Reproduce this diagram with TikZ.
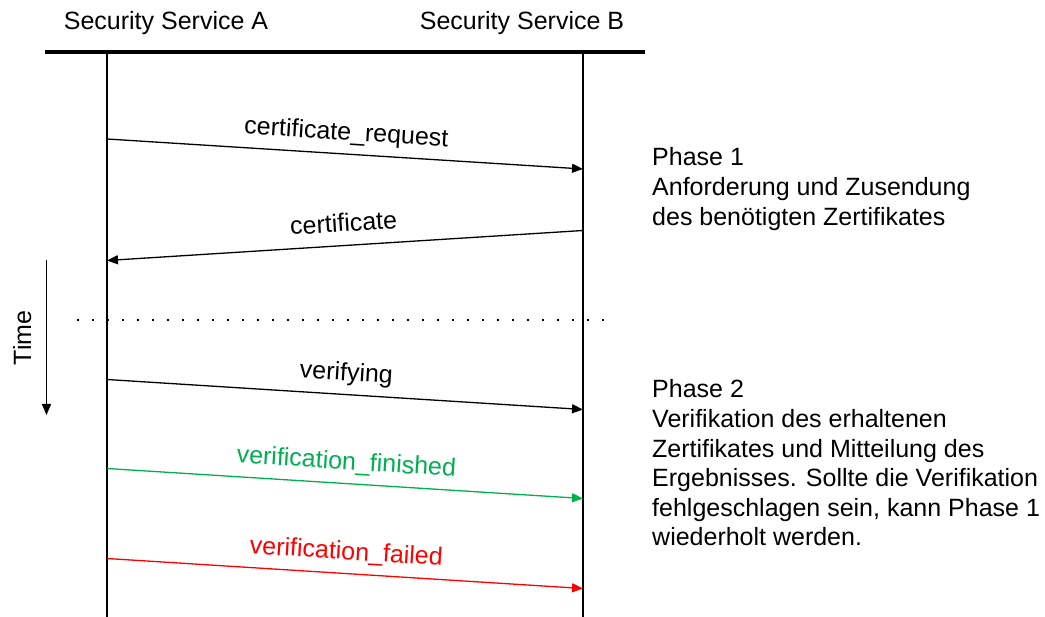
\documentclass[tikz,border=0pt]{standalone}
\usepackage{fontspec}
\setmainfont{Liberation Sans}
\usetikzlibrary{arrows.meta}
\definecolor{okgreen}{HTML}{00B050}
\definecolor{failred}{HTML}{FF0000}
\tikzset{
  txt/.style={font=\fontsize{25}{29.6}\selectfont, inner sep=0pt},
  lifeline/.style={line width=1.4pt},
  msg/.style={line width=1.3pt, -{Triangle[length=11pt,width=9pt]}},
  msglabel/.style={txt, sloped, anchor=base, yshift=14pt},
  phase/.style={txt, anchor=north west, align=left},
}
\begin{document}
\begin{tikzpicture}[x=1pt,y=-1pt]
  \useasboundingbox (0,0) rectangle (1045,617);

  % participants
  \node[txt, anchor=base] (sa) at (166,29.3) {Security Service A};
  \node[txt, anchor=base] (sb) at (522,29.3) {Security Service B};
  \coordinate (hl) at (45,52);
  \coordinate (hr) at (645,52);
  \draw[line width=4pt] (hl) -- (hr);

  % lifelines
  \coordinate (atop) at (107,52);  \coordinate (abot) at (107,617);
  \coordinate (btop) at (583,52);  \coordinate (bbot) at (583,617);
  \draw[lifeline] (atop) -- (abot);
  \draw[lifeline] (btop) -- (bbot);

  % message end points
  \coordinate (a1) at (107,139);   \coordinate (b1) at (583,169);
  \coordinate (b2) at (583,230.5); \coordinate (a2) at (107,260.5);
  \coordinate (a3) at (107,379.5); \coordinate (b3) at (583,409.5);
  \coordinate (a4) at (107,468.5); \coordinate (b4) at (583,498.5);
  \coordinate (a5) at (107,558.5); \coordinate (b5) at (583,588.5);

  % phase 1
  \draw[msg] (a1) -- node[msglabel] {certificate\_request} (b1);
  \draw[msg] (b2) -- node[msglabel] {certificate} (a2);

  % separator between the phases
  \coordinate (sepl) at (77,320);
  \coordinate (sepr) at (610,320);
  \draw[line width=2pt, dash pattern=on 2pt off 13pt] (sepl) -- (sepr);

  % phase 2
  \draw[msg] (a3) -- node[msglabel] {verifying} (b3);
  \draw[msg, okgreen] (a4) -- node[msglabel, text=okgreen] {verification\_finished} (b4);
  \draw[msg, failred] (a5) -- node[msglabel, text=failred] {verification\_failed} (b5);

  % time axis
  \coordinate (t0) at (46.5,260);
  \coordinate (t1) at (46.5,415);
  \draw[line width=1.4pt, -{Triangle[length=11pt,width=9pt]}] (t0) -- (t1);
  \node[txt, rotate=90, anchor=base] (time) at (31,338) {Time};

  % phase descriptions
  \node[phase] (p1) at (652,147.5) {Phase 1\\Anforderung und Zusendung\\des benötigten Zertifikates};
  \node[phase] (p2) at (652,379.5) {Phase 2\\Verifikation des erhaltenen\\Zertifikates und Mitteilung des\\Ergebnisses. Sollte die Verifikation\\fehlgeschlagen sein, kann Phase 1\\wiederholt werden.};
\end{tikzpicture}
\end{document}
